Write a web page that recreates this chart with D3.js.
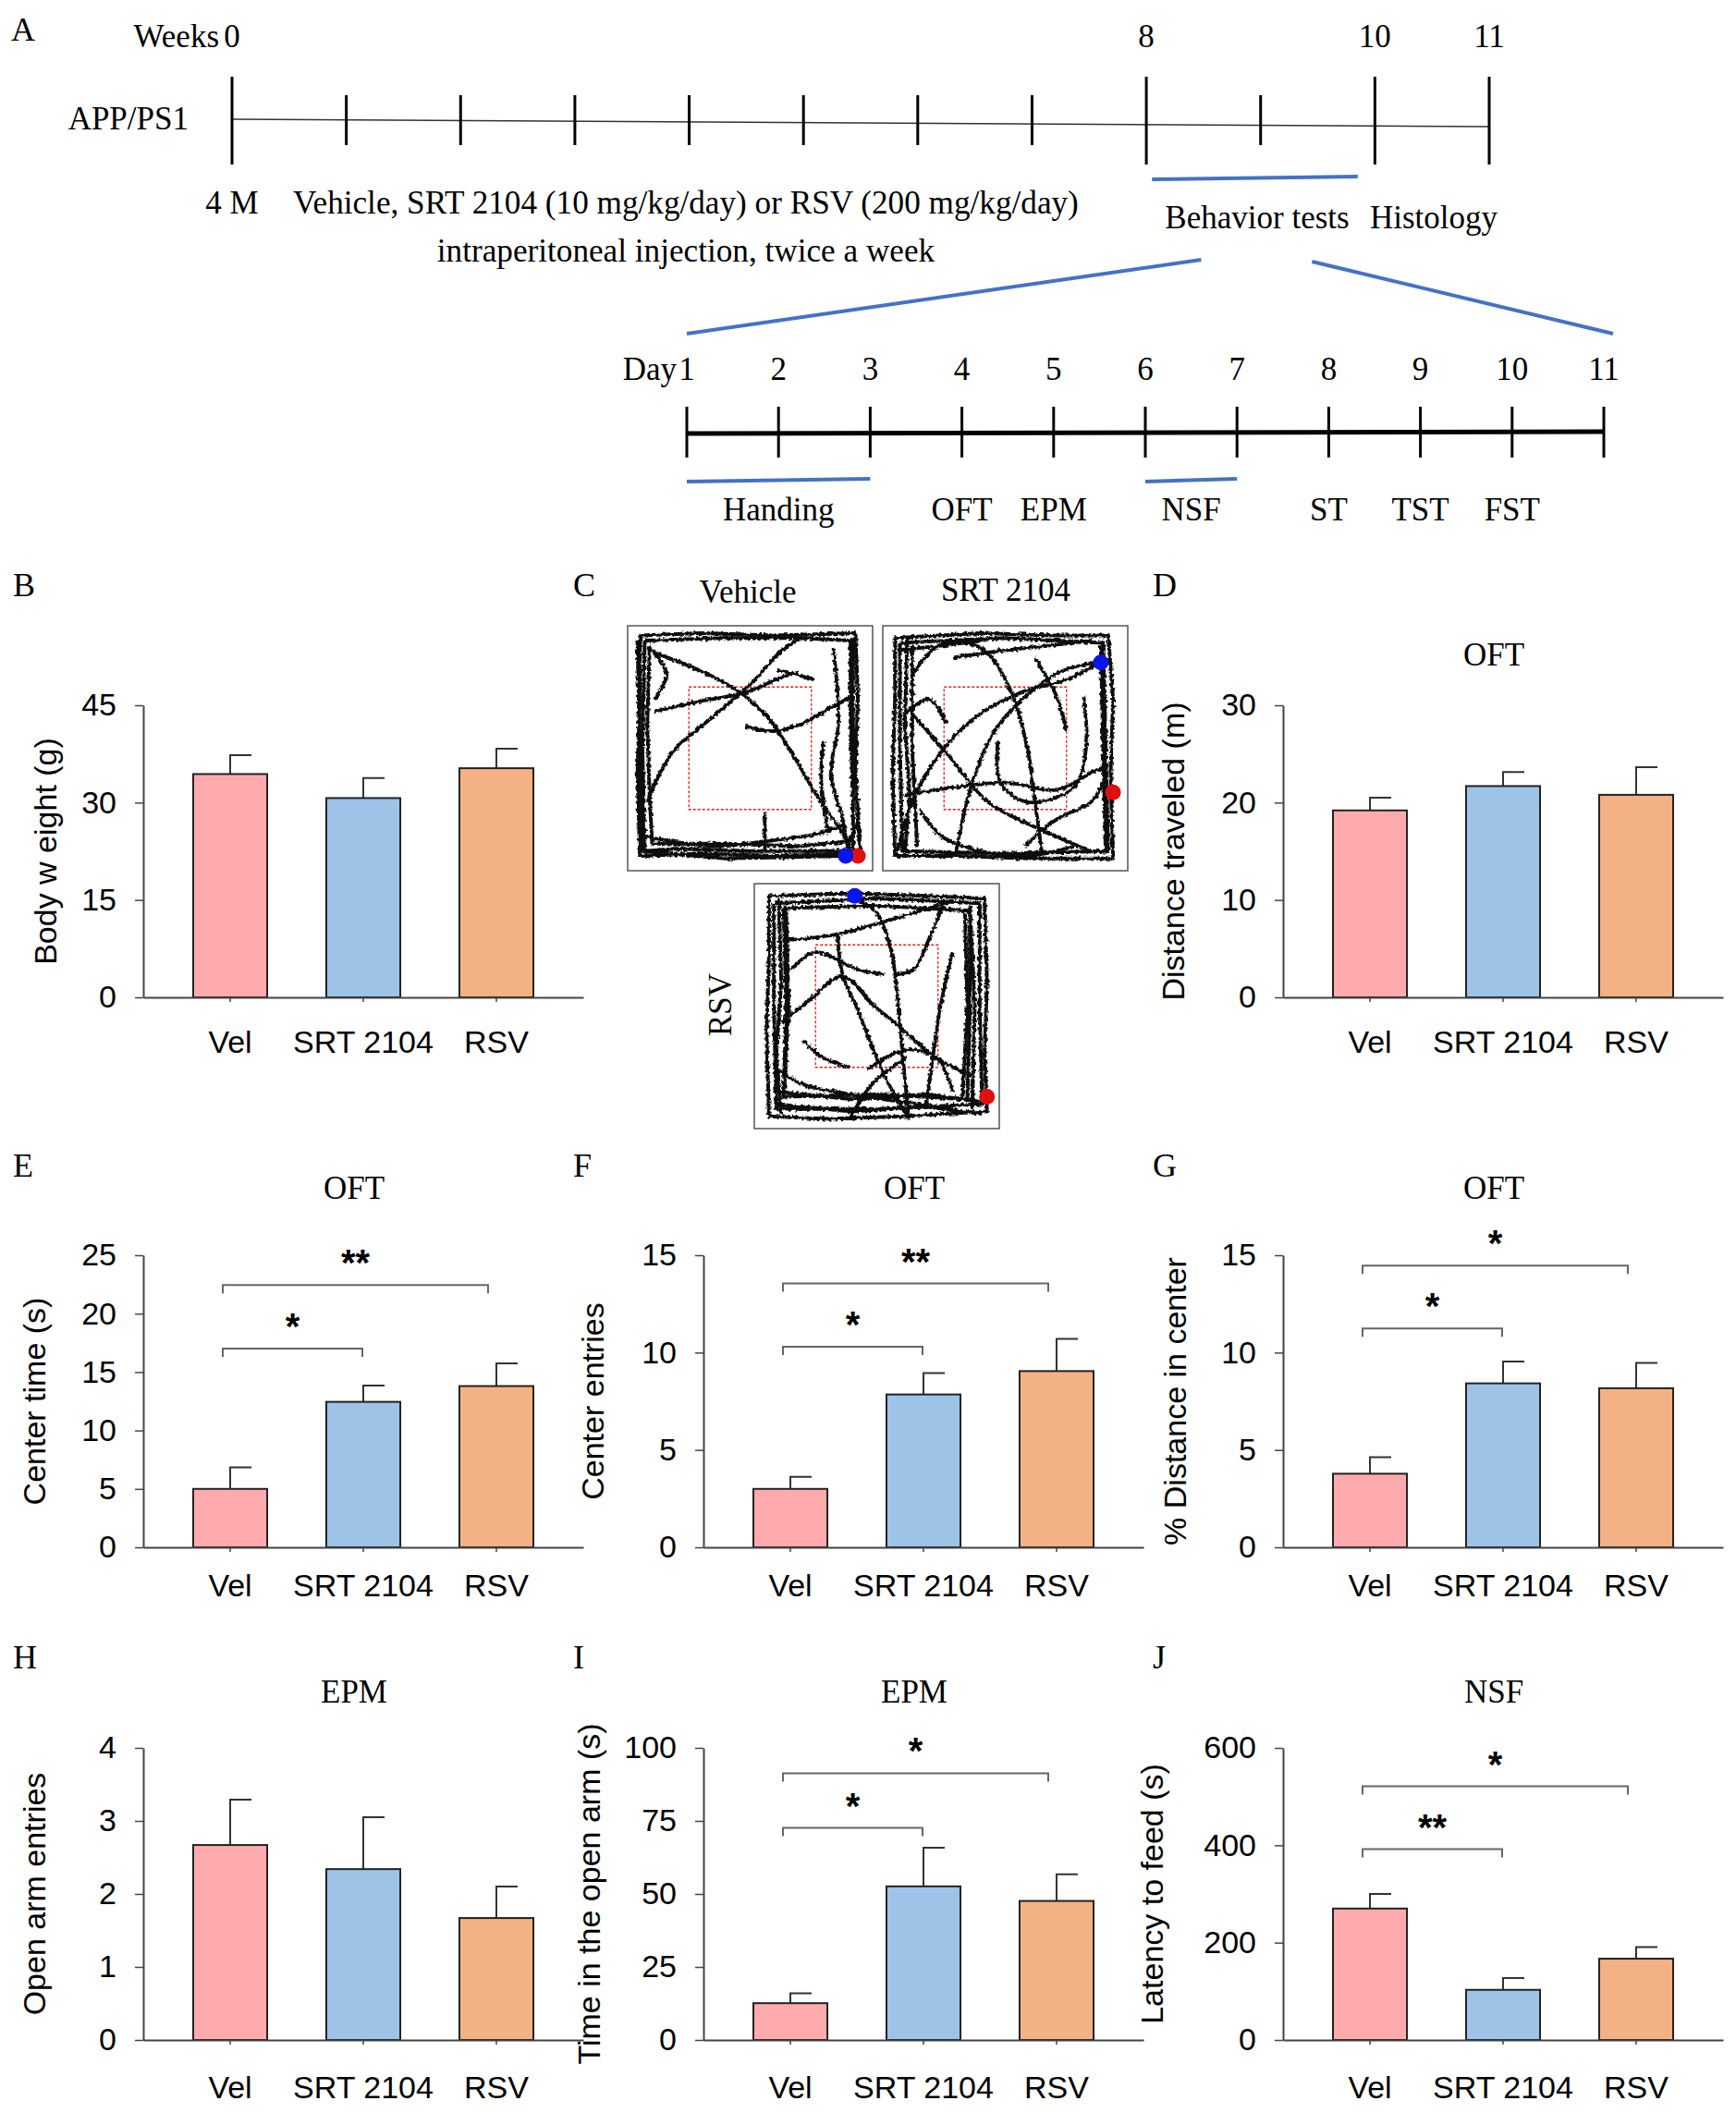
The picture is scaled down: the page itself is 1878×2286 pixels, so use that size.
<!DOCTYPE html>
<meta charset="utf-8">
<style>
  body { margin: 0; background: #fff; }
  .serif { font-family: "Liberation Serif", "Times New Roman", serif; }
  .sans { font-family: "Liberation Sans", Arial, sans-serif; }
</style>
<body>
<script src="https://d3js.org/d3.v7.min.js"></script>
<script>

  //Groups and bar colours
  var groups = ["Vel", "SRT 2104", "RSV"];
  var colors = ["#FFABAD", "#9DC3E6", "#F4B183"];

  //Bar values (mean) and SEM
  var bodyWeight = [34.4, 30.7, 35.3];
  var bodyWeightErr = [2.9, 3.1, 3.0];
  var distance = [19.2, 21.7, 20.8];
  var distanceErr = [1.3, 1.45, 2.85];
  var centerTime = [5.0, 12.45, 13.8];
  var centerTimeErr = [1.85, 1.4, 1.95];
  var centerEntries = [3.0, 7.85, 9.05];
  var centerEntriesErr = [0.62, 1.1, 1.65];
  var pctDistance = [3.78, 8.42, 8.17];
  var pctDistanceErr = [0.85, 1.12, 1.3];
  var openArmEntries = [2.67, 2.34, 1.67];
  var openArmEntriesErr = [0.62, 0.71, 0.43];
  var timeOpenArm = [12.6, 52.6, 47.6];
  var timeOpenArmErr = [3.4, 13.2, 9.1];
  var latency = [270, 103, 167];
  var latencyErr = [30, 24, 24];

  //Significance brackets: [from, to, height in data units, label]
  var centerTimeSig = [["Vel", "SRT 2104", 17.0, "*"], ["Vel", "RSV", 22.45, "**"]];
  var centerEntriesSig = [["Vel", "SRT 2104", 10.3, "*"], ["Vel", "RSV", 13.55, "**"]];
  var pctDistanceSig = [["Vel", "SRT 2104", 11.24, "*"], ["Vel", "RSV", 14.47, "*"]];
  var timeOpenArmSig = [["Vel", "SRT 2104", 72.6, "*"], ["Vel", "RSV", 91.3, "*"]];
  var latencySig = [["Vel", "SRT 2104", 392, "**"], ["Vel", "RSV", 521, "*"]];

  //Timeline (panel A)
  var weekTicks = [0, 1, 2, 3, 4, 5, 6, 7, 8, 9, 10, 11];
  var weekMajor = [0, 8, 10, 11];
  var dayTicks = [1, 2, 3, 4, 5, 6, 7, 8, 9, 10, 11];
  var testNames = ["Handing", "OFT", "EPM", "NSF", "ST", "TST", "FST"];
  var testDays = [2, 4, 5, 6.5, 8, 9, 10];
  var daySpans = [[1, 3], [6, 7]];
  var weekSpan = [8.05, 9.85];

  //Open field tracks (panel C), percent of the arena
  var vehicleLoops = [
    [[5,4],[30,3],[60,4],[93,3],[94,30],[93,60],[95,93],[60,94],[30,93],[5,94],[4,60],[5,30],[5,4]],
    [[7,6],[40,5],[70,5],[91,6],[91,40],[92,70],[92,92],[50,92],[20,91],[7,92],[6,50],[7,6]],
    [[4,6],[5,50],[6,92],[40,95],[88,94],[94,80],[92,40],[92,5]],
    [[9,8],[8,40],[9,70],[10,89],[40,89],[70,90],[90,88]]
  ];
  var vehiclePaths = [
    [[11,11],[39,23],[56,36],[67,52],[77,69],[88,85],[91,91]],
    [[8,72],[18,52],[35,37],[51,23],[63,10],[71,5]],
    [[11,35],[29,31],[49,27],[63,21],[70,19]],
    [[61,18],[69,20],[76,22]],
    [[48,41],[60,43],[71,40],[82,34],[91,29]],
    [[56,76],[56,92]],
    [[7,86],[35,90],[56,88],[77,85],[89,81]],
    [[80,47],[79,62],[82,85]],
    [[84,9],[86,40],[83,60],[88,80],[90,92]],
    [[10,10],[16,20],[11,30]]
  ];
  var srtLoops = [
    [[5,5],[40,3],[70,4],[92,4],[94,30],[93,60],[94,95],[60,95],[30,94],[5,94],[4,60],[5,30],[5,5]],
    [[7,7],[50,5],[90,7],[91,50],[92,92],[50,93],[8,92],[7,50],[7,7]],
    [[10,5],[9,40],[11,70],[9,93]],
    [[12,8],[12,50],[14,90]],
    [[89,8],[90,50],[91,93]],
    [[6,10],[25,8],[40,6]]
  ];
  var srtPaths = [
    [[12,20],[23,8],[40,9],[52,26],[59,50],[62,71],[65,92]],
    [[6,92],[12,72],[22,54],[37,38],[57,27],[75,22],[87,16]],
    [[9,69],[29,66],[50,64],[71,67],[87,59],[91,58]],
    [[12,36],[26,52],[43,72],[64,83],[85,92]],
    [[30,92],[36,66],[45,44],[57,30],[72,19],[87,15]],
    [[47,47],[48,64],[59,72],[78,66],[83,50],[82,29]],
    [[15,75],[24,86],[40,92],[59,94],[78,90]],
    [[58,90],[71,79],[85,72],[90,64]],
    [[29,13],[50,10],[69,8],[85,6]],
    [[9,36],[19,30],[26,40]],
    [[62,13],[71,29],[75,43]]
  ];
  var rsvLoops = [
    [[6,5],[40,4],[70,5],[94,6],[95,40],[94,70],[95,93],[60,95],[30,96],[6,95],[5,60],[6,30],[6,5]],
    [[8,8],[50,6],[92,8],[92,50],[93,90],[50,92],[9,92],[8,50],[8,8]],
    [[10,6],[11,40],[9,70],[11,94]],
    [[13,10],[14,50],[12,88]],
    [[88,9],[90,50],[89,92]],
    [[86,12],[87,50],[85,88]],
    [[12,10],[50,9],[88,11],[88,50],[87,88],[50,86],[12,87],[13,50],[12,10]],
    [[10,85],[40,88],[70,86],[92,89]],
    [[8,90],[40,93],[70,91],[93,94]]
  ];
  var rsvPaths = [
    [[14,23],[32,21],[48,17],[65,12],[81,7]],
    [[39,5],[50,12],[56,28],[58,42],[60,64],[62,85],[63,96]],
    [[11,57],[22,48],[36,38],[49,50],[60,59],[74,71],[90,79]],
    [[34,21],[36,37],[42,51],[53,78],[63,96]],
    [[8,75],[20,82],[39,86],[60,89],[81,92]],
    [[46,76],[58,69],[67,68],[76,73],[81,85]],
    [[77,9],[72,21],[65,35],[58,37]],
    [[39,96],[48,82],[62,71]],
    [[15,35],[25,28],[42,35],[53,37]],
    [[81,28],[76,50],[73,70],[70,92]],
    [[20,64],[28,71],[39,75]]
  ];
  //End (red) and start (blue) points
  var vehicleDots = [[94,94], [89,94]];
  var srtDots = [[94,68], [89,15]];
  var rsvDots = [[95,87], [41,5]];

  var svg = d3.select("body").append("svg")
    .attr("width", 1878)
    .attr("height", 2286)
    .style("background", "#fff");

  function label(x, y, s, cls, size, anchor) {
    return svg.append("text")
      .attr("class", cls)
      .attr("x", x)
      .attr("y", y)
      .attr("font-size", size)
      .attr("text-anchor", anchor || "start")
      .attr("fill", "#000")
      .text(s);
  }

  // ---------- Panel A: timeline ----------
  var wx = d3.scaleLinear().domain([0, 11]).range([251, 1611]);
  var dx = d3.scaleLinear().domain([1, 11]).range([743, 1735]);

  label(12, 44, "A", "serif", 36);
  label(wx(0) - 14, 51, "Weeks", "serif", 35, "end");
  svg.selectAll("text.week").data(weekMajor).enter().append("text")
    .attr("class", "serif week")
    .attr("x", function(d) { return wx(d); })
    .attr("y", 51)
    .attr("font-size", 35)
    .attr("text-anchor", "middle")
    .text(function(d) { return d; });
  label(204, 140, "APP/PS1", "serif", 35, "end");

  svg.append("line")
    .attr("x1", wx(0)).attr("y1", 129)
    .attr("x2", wx(11)).attr("y2", 137)
    .attr("stroke", "#333").attr("stroke-width", 1.5);
  svg.selectAll("line.wtick").data(weekTicks).enter().append("line")
    .attr("class", "wtick")
    .attr("x1", function(d) { return wx(d); })
    .attr("x2", function(d) { return wx(d); })
    .attr("y1", function(d) { return weekMajor.indexOf(d) >= 0 ? 83 : 103; })
    .attr("y2", function(d) { return weekMajor.indexOf(d) >= 0 ? 178 : 157; })
    .attr("stroke", "#000").attr("stroke-width", 3);

  label(wx(0), 231, "4 M", "serif", 35, "middle");
  label(317, 231, "Vehicle, SRT 2104 (10 mg/kg/day) or RSV (200 mg/kg/day)", "serif", 35.2);
  label(742, 283, "intraperitoneal injection, twice a week", "serif", 35.2, "middle");
  label(1360, 247, "Behavior tests", "serif", 35, "middle");
  label(1551, 247, "Histology", "serif", 35, "middle");

  var blue = "#4472C4";
  svg.append("line")
    .attr("x1", wx(weekSpan[0])).attr("y1", 194)
    .attr("x2", wx(weekSpan[1])).attr("y2", 191)
    .attr("stroke", blue).attr("stroke-width", 4);
  //Zoom lines from week 8-10 down to the day scale
  svg.append("line")
    .attr("x1", wx(8.48)).attr("y1", 281)
    .attr("x2", dx(1)).attr("y2", 361)
    .attr("stroke", blue).attr("stroke-width", 4);
  svg.append("line")
    .attr("x1", wx(9.45)).attr("y1", 283)
    .attr("x2", dx(11) + 10).attr("y2", 361)
    .attr("stroke", blue).attr("stroke-width", 4);

  label(dx(1) - 11, 411, "Day", "serif", 35, "end");
  svg.selectAll("text.day").data(dayTicks).enter().append("text")
    .attr("class", "serif day")
    .attr("x", function(d) { return dx(d); })
    .attr("y", 411)
    .attr("font-size", 35)
    .attr("text-anchor", "middle")
    .text(function(d) { return d; });
  svg.append("line")
    .attr("x1", dx(1)).attr("y1", 469)
    .attr("x2", dx(11)).attr("y2", 467)
    .attr("stroke", "#000").attr("stroke-width", 5);
  svg.selectAll("line.dtick").data(dayTicks).enter().append("line")
    .attr("class", "dtick")
    .attr("x1", function(d) { return dx(d); })
    .attr("x2", function(d) { return dx(d); })
    .attr("y1", 440).attr("y2", 495)
    .attr("stroke", "#000").attr("stroke-width", 3);
  svg.selectAll("line.span").data(daySpans).enter().append("line")
    .attr("class", "span")
    .attr("x1", function(d) { return dx(d[0]); })
    .attr("x2", function(d) { return dx(d[1]); })
    .attr("y1", 521).attr("y2", 518)
    .attr("stroke", blue).attr("stroke-width", 4);
  svg.selectAll("text.test").data(testNames).enter().append("text")
    .attr("class", "serif test")
    .attr("x", function(d, i) { return dx(testDays[i]); })
    .attr("y", 563)
    .attr("font-size", 35)
    .attr("text-anchor", "middle")
    .text(function(d) { return d; });

  // ---------- Panel C: open field tracks ----------
  var defs = svg.append("defs");
  var filt = defs.append("filter").attr("id", "jitter")
    .attr("x", "-5%").attr("y", "-5%").attr("width", "110%").attr("height", "110%");
  filt.append("feTurbulence").attr("type", "fractalNoise")
    .attr("baseFrequency", 0.3).attr("numOctaves", 2).attr("seed", 7).attr("result", "noise");
  filt.append("feDisplacementMap").attr("in", "SourceGraphic").attr("in2", "noise")
    .attr("scale", 5).attr("xChannelSelector", "R").attr("yChannelSelector", "G");

  function arena(bx, by, loops, paths, dots) {
    var size = 265;
    var sx = d3.scaleLinear().domain([0, 100]).range([bx, bx + size]);
    var sy = d3.scaleLinear().domain([0, 100]).range([by, by + size]);
    var g = svg.append("g");
    g.append("rect")
      .attr("x", bx).attr("y", by).attr("width", size).attr("height", size)
      .attr("fill", "#fff").attr("stroke", "#555").attr("stroke-width", 1.5);
    g.append("rect")
      .attr("x", sx(25)).attr("y", sy(25)).attr("width", sx(75) - sx(25)).attr("height", sy(75) - sy(25))
      .attr("fill", "none").attr("stroke", "#e02020").attr("stroke-width", 1.3)
      .attr("stroke-dasharray", "3,2");
    var tg = g.append("g").attr("filter", "url(#jitter)");
    var straight = d3.line().x(function(d) { return sx(d[0]); }).y(function(d) { return sy(d[1]); });
    var curved = d3.line().x(function(d) { return sx(d[0]); }).y(function(d) { return sy(d[1]); })
      .curve(d3.curveCatmullRom.alpha(0.5));
    tg.selectAll("path.loop").data(loops).enter().append("path")
      .attr("class", "loop")
      .attr("d", straight)
      .attr("fill", "none").attr("stroke", "#111").attr("stroke-width", 4)
      .attr("stroke-linejoin", "round");
    tg.selectAll("path.walk").data(paths).enter().append("path")
      .attr("class", "walk")
      .attr("d", curved)
      .attr("fill", "none").attr("stroke", "#111").attr("stroke-width", 3.8);
    g.selectAll("circle").data(dots).enter().append("circle")
      .attr("cx", function(d) { return sx(d[0]); })
      .attr("cy", function(d) { return sy(d[1]); })
      .attr("r", 8.5)
      .attr("fill", function(d, i) { return i === 0 ? "#e01010" : "#0a14f0"; });
  }

  label(620, 645, "C", "serif", 36);
  label(809, 652, "Vehicle", "serif", 35, "middle");
  label(1088, 650, "SRT 2104", "serif", 35, "middle");
  svg.append("text")
    .attr("class", "serif")
    .attr("transform", "translate(791,1087) rotate(-90)")
    .attr("font-size", 35)
    .attr("text-anchor", "middle")
    .text("RSV");
  arena(679, 677, vehicleLoops, vehiclePaths, vehicleDots);
  arena(955, 677, srtLoops, srtPaths, srtDots);
  arena(816, 956, rsvLoops, rsvPaths, rsvDots);

  // ---------- Bar chart panels ----------
  var rows = [
    { zero: 1079, letterY: 645, titleY: 720, labelDy: 60 },
    { zero: 1674, letterY: 1273, titleY: 1297, labelDy: 53 },
    { zero: 2207, letterY: 1805, titleY: 1842, labelDy: 63 }
  ];
  var panels = [
    { letter: "B", x: 155, row: 0, vals: bodyWeight, errs: bodyWeightErr, max: 45, ticks: [0, 15, 30, 45], ylab: "Body w eight (g)", gap: 94, title: null, sig: [] },
    { letter: "D", x: 1388, row: 0, vals: distance, errs: distanceErr, max: 30, ticks: [0, 10, 20, 30], ylab: "Distance traveled (m)", gap: 107, title: "OFT", sig: [] },
    { letter: "E", x: 155, row: 1, vals: centerTime, errs: centerTimeErr, max: 25, ticks: [0, 5, 10, 15, 20, 25], ylab: "Center time (s)", gap: 106, title: "OFT", sig: centerTimeSig },
    { letter: "F", x: 761, row: 1, vals: centerEntries, errs: centerEntriesErr, max: 15, ticks: [0, 5, 10, 15], ylab: "Center entries", gap: 108, title: "OFT", sig: centerEntriesSig },
    { letter: "G", x: 1388, row: 1, vals: pctDistance, errs: pctDistanceErr, max: 15, ticks: [0, 5, 10, 15], ylab: "% Distance in center", gap: 105, title: "OFT", sig: pctDistanceSig },
    { letter: "H", x: 155, row: 2, vals: openArmEntries, errs: openArmEntriesErr, max: 4, ticks: [0, 1, 2, 3, 4], ylab: "Open arm entries", gap: 106, title: "EPM", sig: [] },
    { letter: "I", x: 761, row: 2, vals: timeOpenArm, errs: timeOpenArmErr, max: 100, ticks: [0, 25, 50, 75, 100], ylab: "Time in the open arm (s)", gap: 112, title: "EPM", sig: timeOpenArmSig },
    { letter: "J", x: 1388, row: 2, vals: latency, errs: latencyErr, max: 600, ticks: [0, 200, 400, 600], ylab: "Latency to feed (s)", gap: 130, title: "NSF", sig: latencySig }
  ];

  function barPanel(p) {
    var r = rows[p.row];
    var w = 476, h = 316;
    var x = d3.scaleBand().domain(groups).range([p.x, p.x + w]).paddingInner(0.444).paddingOuter(0.375);
    var y = d3.scaleLinear().domain([0, p.max]).range([r.zero, r.zero - h]);
    var g = svg.append("g");
    var cx = function(d) { return x(d) + x.bandwidth() / 2; };

    label(p.x - 141, r.letterY, p.letter, "serif", 36);
    if (p.title) label(p.x + w / 2 - 10, r.titleY, p.title, "serif", 35, "middle");

    //Error bars (half caps to the right)
    g.selectAll("path.err").data(p.vals).enter().append("path")
      .attr("class", "err")
      .attr("d", function(d, i) {
        var xc = cx(groups[i]);
        return "M" + xc + "," + y(d) + "V" + y(d + p.errs[i]) + "H" + (xc + 23);
      })
      .attr("fill", "none").attr("stroke", "#333").attr("stroke-width", 2);

    //Bars
    g.selectAll("rect").data(p.vals).enter().append("rect")
      .attr("x", function(d, i) { return x(groups[i]); })
      .attr("y", function(d) { return y(d); })
      .attr("width", x.bandwidth())
      .attr("height", function(d) { return y(0) - y(d); })
      .attr("fill", function(d, i) { return colors[i]; })
      .attr("stroke", "#222").attr("stroke-width", 2);

    //Y axis
    var ya = g.append("g")
      .attr("transform", "translate(" + p.x + ",0)")
      .call(d3.axisLeft(y).tickValues(p.ticks).tickFormat(d3.format("d"))
        .tickSize(9).tickSizeOuter(0).tickPadding(20));
    //X axis
    var xa = g.append("g")
      .attr("transform", "translate(0," + r.zero + ")")
      .call(d3.axisBottom(x).tickSize(5).tickSizeOuter(0).tickPadding(r.labelDy - 29));
    [ya, xa].forEach(function(a) {
      a.select(".domain").attr("stroke", "#444").attr("stroke-width", 2);
      a.selectAll(".tick line").attr("stroke", "#444").attr("stroke-width", 1.5);
      a.selectAll(".tick text")
        .attr("font-family", "'Liberation Sans', Arial, sans-serif")
        .attr("font-size", 34).attr("fill", "#000");
    });

    //Y axis title
    g.append("text")
      .attr("class", "sans")
      .attr("transform", "translate(" + (p.x - p.gap) + "," + (r.zero - h / 2) + ") rotate(-90)")
      .attr("font-size", 34)
      .attr("text-anchor", "middle")
      .text(p.ylab);

    //Significance brackets
    p.sig.forEach(function(s) {
      var x1 = cx(s[0]) - 8;
      var x2 = cx(s[1]) - (s[1] === "RSV" ? 9 : 1);
      var yy = y(s[2]);
      g.append("path")
        .attr("d", "M" + x1 + "," + (yy + 9) + "V" + yy + "H" + x2 + "V" + (yy + 9))
        .attr("fill", "none").attr("stroke", "#666").attr("stroke-width", 2);
      g.append("text")
        .attr("class", "sans")
        .attr("x", (x1 + x2) / 2)
        .attr("y", yy - 10)
        .attr("font-size", 40)
        .attr("font-weight", "bold")
        .attr("text-anchor", "middle")
        .text(s[3]);
    });
  }

  panels.forEach(barPanel);

</script>
</body>
